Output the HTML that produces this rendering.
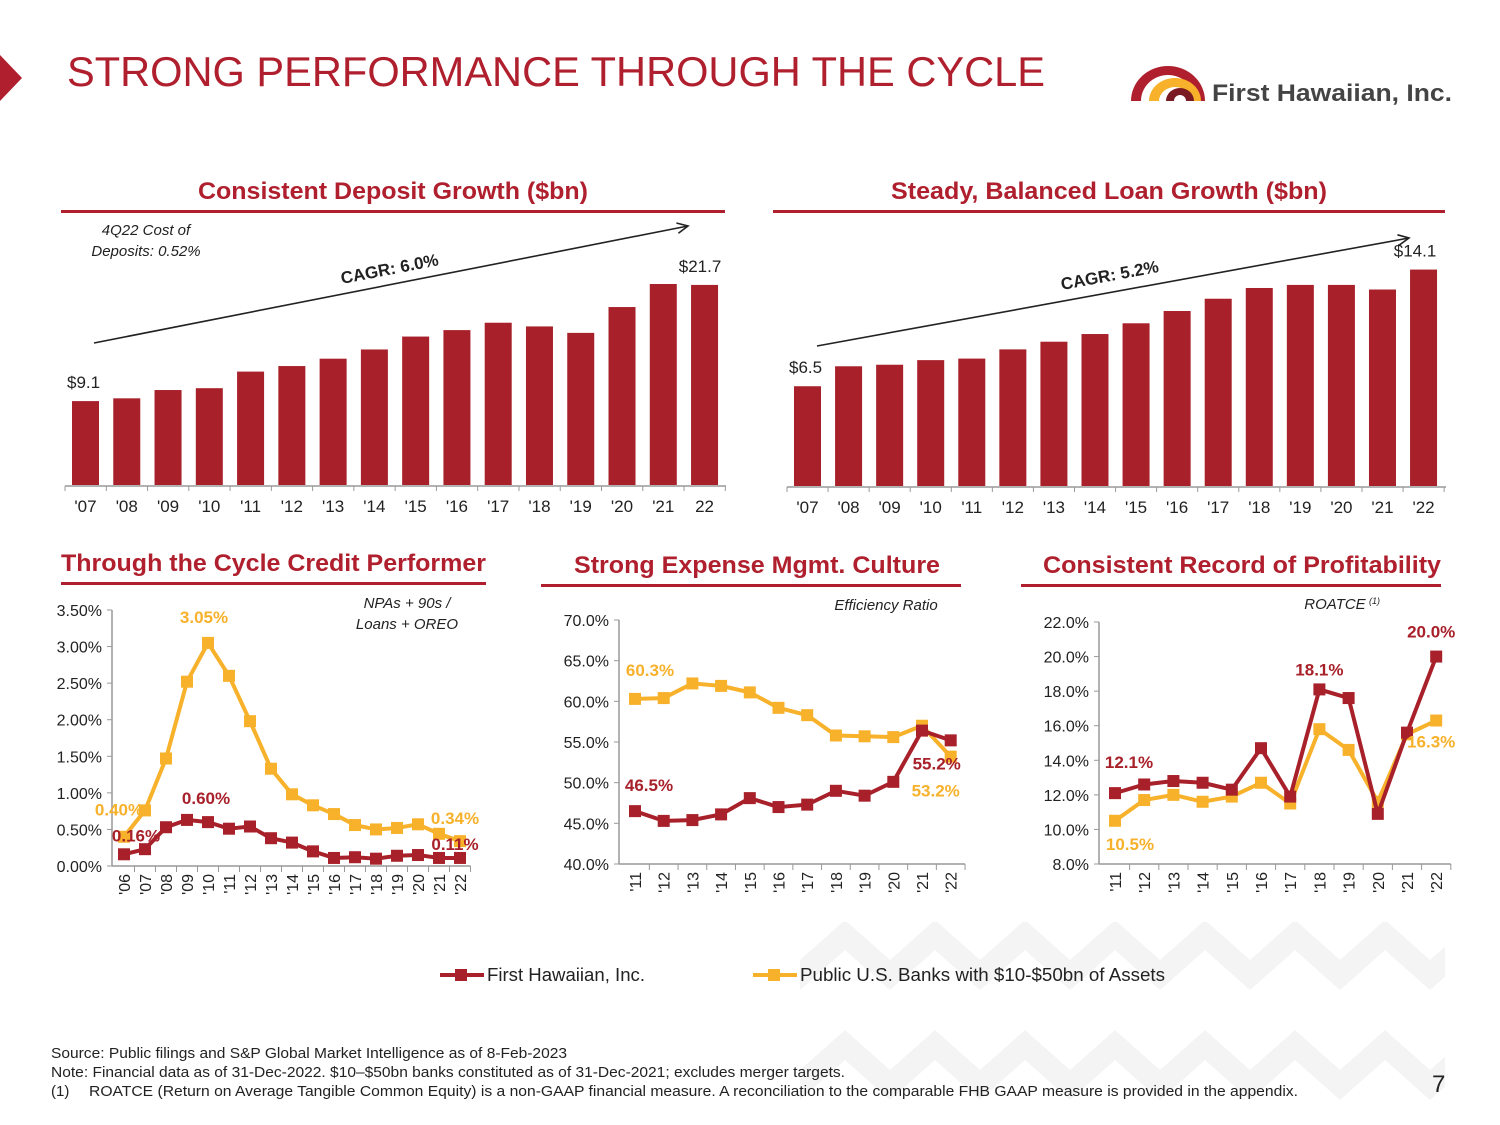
<!DOCTYPE html>
<html><head><meta charset="utf-8"><style>
html,body{margin:0;padding:0;background:#fff}
svg{display:block;font-family:"Liberation Sans",Arial,sans-serif}
</style></head><body>
<svg id="s" width="1500" height="1125" viewBox="0 0 1500 1125" xmlns="http://www.w3.org/2000/svg">
<defs>
<pattern id="chev" x="800" y="920" width="90" height="110" patternUnits="userSpaceOnUse">
<polygon points="0,40 45,0 90,40 90,70 45,30 0,70" fill="#f4f4f4"/>
</pattern>
</defs>
<rect x="800" y="922" width="645" height="203" fill="url(#chev)"/>
<polygon points="0,55 22,78 0,101" fill="#b01f2d"/>
<text x="67" y="86" font-size="42" textLength="978" lengthAdjust="spacingAndGlyphs" fill="#b01f2d">STRONG PERFORMANCE THROUGH THE CYCLE</text>
<g>
<path d="M1131,101 A37,35 0 0 1 1205,101 L1195,101 A27,26 0 0 0 1141,101 Z" fill="#b01f2d"/>
<path d="M1149,101 A26,23 0 0 1 1201,101 L1191,101 A16,14 0 0 0 1159,101 Z" fill="#f7b12b"/>
<path d="M1166,101 A14,13 0 0 1 1194,101 L1186,101 A6,6 0 0 0 1174,101 Z" fill="#7a1a22"/>
<text x="1212" y="101" font-size="24" font-weight="bold" textLength="240" lengthAdjust="spacingAndGlyphs" fill="#444">First Hawaiian, Inc.</text>
</g>
<g id="g"></g>
<text x="51" y="1058" font-size="15" textLength="516" lengthAdjust="spacingAndGlyphs" fill="#222">Source: Public filings and S&amp;P Global Market Intelligence as of 8-Feb-2023</text>
<text x="51" y="1077" font-size="15" textLength="794" lengthAdjust="spacingAndGlyphs" fill="#222">Note: Financial data as of 31-Dec-2022. $10–$50bn banks constituted as of 31-Dec-2021; excludes merger targets.</text>
<text x="51" y="1096" font-size="15" fill="#222">(1)</text>
<text x="89" y="1096" font-size="15" textLength="1209" lengthAdjust="spacingAndGlyphs" fill="#222">ROATCE (Return on Average Tangible Common Equity) is a non-GAAP financial measure.  A reconciliation to the comparable FHB GAAP measure is provided in the appendix.</text>
<text x="1432" y="1092" font-size="24" fill="#222">7</text>
<g>
<line x1="440" y1="975" x2="484" y2="975" stroke="#a8202a" stroke-width="4"/>
<rect x="455" y="969" width="12" height="12" fill="#a8202a"/>
<text x="487" y="981" font-size="18" textLength="158" lengthAdjust="spacingAndGlyphs" fill="#222">First Hawaiian, Inc.</text>
<line x1="753" y1="975" x2="797" y2="975" stroke="#f7b12b" stroke-width="4"/>
<rect x="768" y="969" width="12" height="12" fill="#f7b12b"/>
<text x="800" y="981" font-size="18" textLength="365" lengthAdjust="spacingAndGlyphs" fill="#222">Public U.S. Banks with $10-$50bn of Assets</text>
</g>
</svg>
<script>
const depYears=["'07","'08","'09","'10","'11","'12","'13","'14","'15","'16","'17","'18","'19","'20","'21","22"];
const depValues=[9.1,9.4,10.3,10.5,12.3,12.9,13.7,14.7,16.1,16.8,17.6,17.2,16.5,19.3,21.8,21.7];
const loanYears=["'07","'08","'09","'10","'11","'12","'13","'14","'15","'16","'17","'18","'19","'20","'21","'22"];
const loanValues=[6.5,7.8,7.9,8.2,8.3,8.9,9.4,9.9,10.6,11.4,12.2,12.9,13.1,13.1,12.8,14.1];
const creditYears=["'06","'07","'08","'09","'10","'11","'12","'13","'14","'15","'16","'17","'18","'19","'20","'21","'22"];
const creditFHB=[0.16,0.23,0.53,0.63,0.60,0.51,0.54,0.38,0.32,0.20,0.11,0.12,0.10,0.14,0.15,0.11,0.11];
const creditPeers=[0.40,0.76,1.47,2.52,3.05,2.60,1.98,1.33,0.98,0.83,0.71,0.56,0.50,0.52,0.57,0.44,0.34];
const creditTicks=["0.00%","0.50%","1.00%","1.50%","2.00%","2.50%","3.00%","3.50%"];
const effYears=["'11","'12","'13","'14","'15","'16","'17","'18","'19","'20","'21","'22"];
const effFHB=[46.5,45.3,45.4,46.1,48.1,47.0,47.3,49.0,48.4,50.1,56.4,55.2];
const effPeers=[60.3,60.4,62.2,61.9,61.1,59.2,58.3,55.8,55.7,55.6,57.0,53.2];
const effTicks=["40.0%","45.0%","50.0%","55.0%","60.0%","65.0%","70.0%"];
const roeYears=["'11","'12","'13","'14","'15","'16","'17","'18","'19","'20","'21","'22"];
const roeFHB=[12.1,12.6,12.8,12.7,12.3,14.7,11.9,18.1,17.6,10.9,15.6,20.0];
const roePeers=[10.5,11.7,12.0,11.6,11.9,12.7,11.5,15.8,14.6,11.6,15.5,16.3];
const roeTicks=["8.0%","10.0%","12.0%","14.0%","16.0%","18.0%","20.0%","22.0%"];

const NS="http://www.w3.org/2000/svg";
const G=document.getElementById('g');
const RED="#a8202a",GOLD="#f7b12b",TRED="#b01f2d";
function mk(tag,a,parent){const e=document.createElementNS(NS,tag);for(const k in a)e.setAttribute(k,a[k]);(parent||G).appendChild(e);return e;}
function txt(x,y,s,a,parent){const e=mk('text',Object.assign({x:x,y:y,'font-size':16,fill:'#222'},a||{}),parent);e.textContent=s;return e;}

function header(x1,x2,tx1,tx2,yT,yL,title,name){
  const t=txt(tx1,yT,title,{'font-size':24,'font-weight':'bold',fill:TRED,textLength:tx2-tx1,lengthAdjust:'spacingAndGlyphs'});
  
  
  const l=mk('rect',{x:x1,y:yL,width:x2-x1,height:3,fill:TRED});
  
  
}

function barChart(o){
  const g=mk('g',{});
  
  
  const xs=i=>o.x0+i*o.step;
  const ys=v=>o.base-v*o.ppu;
  mk('line',{x1:o.ax1,y1:o.base+1,x2:o.ax2,y2:o.base+1,stroke:'#999','stroke-width':1.5},g);
  for(let i=0;i<=o.vals.length;i++){mk('line',{x1:xs(i)-7,y1:o.base+1,x2:xs(i)-7,y2:o.base+6,stroke:'#999'},g);}
  o.vals.forEach((v,i)=>{
    const r=mk('rect',{x:xs(i),y:ys(v),width:27,height:v*o.ppu,fill:RED},g);
    
    
    const t=txt(xs(i)+13.5,o.base+27,o.cats[i],{'font-size':17,'text-anchor':'middle'},g);
    
    
  });
  const n=o.vals.length;
  const f=txt(xs(0)-5,ys(o.vals[0])-13,'$'+o.vals[0].toFixed(1),{'font-size':17},g);
  
  
  const l=txt(xs(n-1)+o.lastDx,ys(o.vals[n-1])+o.lastDy,'$'+o.vals[n-1].toFixed(1),{'font-size':17,'text-anchor':'middle'},g);
  
  
}

barChart({name:'deposit-bar-chart',cats:depYears,vals:depValues,x0:72,step:41.27,base:485,ppu:9.22,ax1:65,ax2:726,lastDx:9,lastDy:-13});
barChart({name:'loan-bar-chart',cats:loanYears,vals:loanValues,x0:794,step:41.07,base:486,ppu:15.35,ax1:787,ax2:1446,lastDx:5,lastDy:-13});

function arrow(x1,y1,x2,y2,label,lx,ly,ang,name){
  const g=mk('g',{});
  
  
  mk('line',{x1:x1,y1:y1,x2:x2,y2:y2,stroke:'#222','stroke-width':1.6},g);
  const a=Math.atan2(y2-y1,x2-x1);
  const p=s=>[x2-12*Math.cos(a+s*0.45),y2-12*Math.sin(a+s*0.45)];
  mk('polyline',{points:p(1).join(',')+' '+x2+','+y2+' '+p(-1).join(','),fill:'none',stroke:'#222','stroke-width':1.6},g);
  txt(lx,ly,label,{'font-size':17,'font-weight':'bold',transform:'rotate('+ang+' '+lx+' '+ly+')'},g);
}
arrow(94,343,688,226,'CAGR: 6.0%',342,284,-11,'deposit-cagr-arrow');
arrow(817,346,1409,238,'CAGR: 5.2%',1062,290,-10.5,'loan-cagr-arrow');

header(61,725,198,588,199,210,'Consistent Deposit Growth ($bn)','deposit-chart');
header(773,1445,891,1327,199,210,'Steady, Balanced Loan Growth ($bn)','loan-chart');
header(61,486,61,486,571,582,'Through the Cycle Credit Performer','credit-chart');
header(541,961,574,940,573,584,'Strong Expense Mgmt. Culture','efficiency-chart');
header(1021,1441,1043,1441,573,584,'Consistent Record of Profitability','roatce-chart');

let t=txt(146,235,'4Q22 Cost of',{'font-size':15,'font-style':'italic','text-anchor':'middle'});


txt(146,256,'Deposits: 0.52%',{'font-size':15,'font-style':'italic','text-anchor':'middle'});

function lineChart(o){
  const g=mk('g',{});
  
  
  const ys=v=>o.yb-(v-o.vmin)*(o.yb-o.yt)/(o.vmax-o.vmin);
  const xs=i=>o.x0+i*o.step;
  mk('line',{x1:o.ax,y1:o.yt,x2:o.ax,y2:o.yb,stroke:'#999','stroke-width':1.5},g);
  const xEnd=xs(o.cats.length-1)+o.step/2;
  mk('line',{x1:o.ax,y1:o.yb,x2:xEnd,y2:o.yb,stroke:'#999','stroke-width':1.5},g);
  o.ticks.forEach((s,i)=>{
    const v=o.vmin+i*(o.vmax-o.vmin)/(o.ticks.length-1);
    mk('line',{x1:o.ax-5,y1:ys(v),x2:o.ax,y2:ys(v),stroke:'#999'},g);
    const e=txt(o.ax-10,ys(v)+6,s,{'font-size':16,'text-anchor':'end'},g);
    
    
  });
  o.cats.forEach((c,i)=>{
    mk('line',{x1:xs(i)+o.step/2,y1:o.yb,x2:xs(i)+o.step/2,y2:o.yb+6,stroke:'#999'},g);
    const x=xs(i)+6,y=o.yb+8;
    const e=txt(x,y,c,{'font-size':16,'text-anchor':'end',transform:'rotate(-90 '+x+' '+y+')'},g);
    
    
  });
  [[o.peers,GOLD,'peers'],[o.fhb,RED,'fhb']].forEach(([arr,col,nm])=>{
    const pl=mk('polyline',{points:arr.map((v,i)=>xs(i)+','+ys(v)).join(' '),fill:'none',stroke:col,'stroke-width':4,'stroke-linejoin':'round'},g);
    
    
    arr.forEach((v,i)=>{
      const r=mk('rect',{x:xs(i)-6,y:ys(v)-6,width:12,height:12,fill:col},g);
      
      
    });
  });
  o.labels.forEach(L=>{
    const arr=L[0]==='f'?o.fhb:o.peers;
    const v=arr[L[1]];
    const e=txt(xs(L[1])+L[2],ys(v)+L[3],L[4](v),{'font-size':17,'font-weight':'bold',fill:L[0]==='f'?RED:GOLD,'text-anchor':'middle'},g);
    
    
  });
  (o.note||[]).forEach((s,i)=>{
    const e=txt(o.nx,o.ny+i*21,s,{'font-size':15,'font-style':'italic','text-anchor':'middle'},g);
    
    
  });
}
const p2=v=>v.toFixed(2)+'%', p1=v=>v.toFixed(1)+'%';
lineChart({name:'credit-line-chart',cats:creditYears,fhb:creditFHB,peers:creditPeers,ticks:creditTicks,vmin:0,vmax:3.5,ax:112,yt:610,yb:866,x0:124,step:21,
  labels:[['p',0,-5,-21,p2],['f',0,12,-13,p2],['p',4,-4,-20,p2],['f',4,-2,-18,p2],['p',16,-5,-17,p2],['f',16,-5,-8,p2]],
  note:['NPAs + 90s /','Loans + OREO'],nx:407,ny:608});
lineChart({name:'efficiency-line-chart',cats:effYears,fhb:effFHB,peers:effPeers,ticks:effTicks,vmin:40,vmax:70,ax:619,yt:620,yb:864,x0:635,step:28.7,
  labels:[['p',0,15,-23,p1],['f',0,14,-20,p1],['f',11,-14,29,p1],['p',11,-15,40,p1]],
  note:['Efficiency Ratio'],nx:886,ny:610});
lineChart({name:'roatce-line-chart',cats:roeYears,fhb:roeFHB,peers:roePeers,ticks:roeTicks,vmin:8,vmax:22,ax:1099,yt:622,yb:864,x0:1115,step:29.2,
  labels:[['f',0,14,-25,p1],['p',0,15,29,p1],['f',7,0,-14,p1],['f',11,-5,-19,p1],['p',11,-5,27,p1]],
  note:[],nx:0,ny:0});
t=txt(1335,609,'ROATCE',{'font-size':15,'font-style':'italic','text-anchor':'middle'});


txt(1369,604,'(1)',{'font-size':9,'font-style':'italic'});
</script>
</body></html>
